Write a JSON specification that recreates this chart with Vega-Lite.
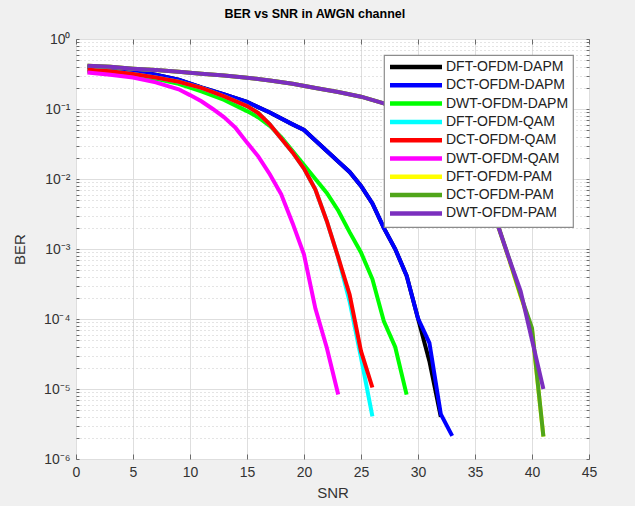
{
  "$schema": "https://vega.github.io/schema/vega-lite/v6.json",
  "width": 513,
  "height": 420,
  "autosize": {"type": "none"},
  "padding": {"left": 76, "top": 39, "right": 46, "bottom": 47},
  "background": "#f0f0f0",
  "title": {"text": "BER vs SNR in AWGN channel", "fontSize": 12.5, "fontWeight": "bold", "font": "Liberation Sans", "color": "#000000", "offset": 12, "anchor": "start", "dx": 212},
  "config": {
    "font": "Liberation Sans",
    "view": {"fill": "white", "stroke": "#6a6a6a", "strokeWidth": 1},
    "axis": {"domain": false, "labelFont": "Liberation Sans", "labelFontSize": 14, "labelColor": "#333333", "tickColor": "#6a6a6a", "titleFont": "Liberation Sans", "titleFontSize": 15, "titleFontWeight": "normal", "titleColor": "#333333", "labelOverlap": false, "labelFlush": false},
    "legend": {
      "orient": "top-right",
      "offset": 16,
      "title": null,
      "fillColor": "white",
      "strokeColor": "#8c8c8c",
      "strokeWidth": 1.2,
      "padding": 4.5,
      "rowPadding": -0.7,
      "symbolType": "M-5.2,0H5.2",
      "symbolSize": 100,
      "symbolStrokeWidth": 4.5,
      "symbolOffset": 20,
      "labelOffset": 22.5,
      "labelFontSize": 14,
      "labelFont": "Liberation Sans",
      "labelColor": "#222222",
      "labelLimit": 300
    }
  },
  "data": {"values": [
    {"s":"DFT-OFDM-DAPM","x":1,"y":0.398},{"s":"DFT-OFDM-DAPM","x":3,"y":0.38},{"s":"DFT-OFDM-DAPM","x":5,"y":0.347},{"s":"DFT-OFDM-DAPM","x":7,"y":0.309},{"s":"DFT-OFDM-DAPM","x":9,"y":0.263},{"s":"DFT-OFDM-DAPM","x":11,"y":0.204},{"s":"DFT-OFDM-DAPM","x":13,"y":0.162},{"s":"DFT-OFDM-DAPM","x":15,"y":0.126},{"s":"DFT-OFDM-DAPM","x":17,"y":0.0891},{"s":"DFT-OFDM-DAPM","x":19,"y":0.0603},{"s":"DFT-OFDM-DAPM","x":20,"y":0.0501},{"s":"DFT-OFDM-DAPM","x":21,"y":0.0355},{"s":"DFT-OFDM-DAPM","x":22,"y":0.0251},{"s":"DFT-OFDM-DAPM","x":23,"y":0.0178},{"s":"DFT-OFDM-DAPM","x":24,"y":0.0126},{"s":"DFT-OFDM-DAPM","x":25,"y":0.00794},{"s":"DFT-OFDM-DAPM","x":26,"y":0.00447},{"s":"DFT-OFDM-DAPM","x":27,"y":0.002},{"s":"DFT-OFDM-DAPM","x":28,"y":0.001},{"s":"DFT-OFDM-DAPM","x":29,"y":0.000417},{"s":"DFT-OFDM-DAPM","x":30,"y":0.000102},{"s":"DFT-OFDM-DAPM","x":31,"y":0.000025},{"s":"DFT-OFDM-DAPM","x":32,"y":0.000004},
    {"s":"DCT-OFDM-DAPM","x":1,"y":0.398},{"s":"DCT-OFDM-DAPM","x":3,"y":0.38},{"s":"DCT-OFDM-DAPM","x":5,"y":0.347},{"s":"DCT-OFDM-DAPM","x":7,"y":0.309},{"s":"DCT-OFDM-DAPM","x":9,"y":0.263},{"s":"DCT-OFDM-DAPM","x":11,"y":0.204},{"s":"DCT-OFDM-DAPM","x":13,"y":0.162},{"s":"DCT-OFDM-DAPM","x":15,"y":0.126},{"s":"DCT-OFDM-DAPM","x":17,"y":0.0891},{"s":"DCT-OFDM-DAPM","x":19,"y":0.0603},{"s":"DCT-OFDM-DAPM","x":20,"y":0.0501},{"s":"DCT-OFDM-DAPM","x":21,"y":0.0355},{"s":"DCT-OFDM-DAPM","x":22,"y":0.0251},{"s":"DCT-OFDM-DAPM","x":23,"y":0.0178},{"s":"DCT-OFDM-DAPM","x":24,"y":0.0126},{"s":"DCT-OFDM-DAPM","x":25,"y":0.00794},{"s":"DCT-OFDM-DAPM","x":26,"y":0.00447},{"s":"DCT-OFDM-DAPM","x":27,"y":0.002},{"s":"DCT-OFDM-DAPM","x":28,"y":0.001},{"s":"DCT-OFDM-DAPM","x":29,"y":0.000417},{"s":"DCT-OFDM-DAPM","x":30,"y":0.000102},{"s":"DCT-OFDM-DAPM","x":31,"y":0.0000457},{"s":"DCT-OFDM-DAPM","x":32,"y":0.00000437},{"s":"DCT-OFDM-DAPM","x":33,"y":0.00000214},
    {"s":"DWT-OFDM-DAPM","x":1,"y":0.347},{"s":"DWT-OFDM-DAPM","x":3,"y":0.331},{"s":"DWT-OFDM-DAPM","x":5,"y":0.302},{"s":"DWT-OFDM-DAPM","x":7,"y":0.269},{"s":"DWT-OFDM-DAPM","x":9,"y":0.229},{"s":"DWT-OFDM-DAPM","x":11,"y":0.178},{"s":"DWT-OFDM-DAPM","x":13,"y":0.135},{"s":"DWT-OFDM-DAPM","x":15,"y":0.0933},{"s":"DWT-OFDM-DAPM","x":16,"y":0.0759},{"s":"DWT-OFDM-DAPM","x":17,"y":0.0575},{"s":"DWT-OFDM-DAPM","x":18,"y":0.0398},{"s":"DWT-OFDM-DAPM","x":19,"y":0.0251},{"s":"DWT-OFDM-DAPM","x":20,"y":0.0158},{"s":"DWT-OFDM-DAPM","x":21,"y":0.01},{"s":"DWT-OFDM-DAPM","x":22,"y":0.00631},{"s":"DWT-OFDM-DAPM","x":23,"y":0.00355},{"s":"DWT-OFDM-DAPM","x":24,"y":0.00174},{"s":"DWT-OFDM-DAPM","x":25,"y":0.000891},{"s":"DWT-OFDM-DAPM","x":26,"y":0.000372},{"s":"DWT-OFDM-DAPM","x":27,"y":0.0000933},{"s":"DWT-OFDM-DAPM","x":28,"y":0.0000398},{"s":"DWT-OFDM-DAPM","x":29,"y":0.00000832},
    {"s":"DFT-OFDM-QAM","x":1,"y":0.363},{"s":"DFT-OFDM-QAM","x":3,"y":0.347},{"s":"DFT-OFDM-QAM","x":5,"y":0.316},{"s":"DFT-OFDM-QAM","x":7,"y":0.282},{"s":"DFT-OFDM-QAM","x":9,"y":0.245},{"s":"DFT-OFDM-QAM","x":11,"y":0.2},{"s":"DFT-OFDM-QAM","x":13,"y":0.151},{"s":"DFT-OFDM-QAM","x":15,"y":0.11},{"s":"DFT-OFDM-QAM","x":16,"y":0.0871},{"s":"DFT-OFDM-QAM","x":17,"y":0.0603},{"s":"DFT-OFDM-QAM","x":18,"y":0.038},{"s":"DFT-OFDM-QAM","x":19,"y":0.024},{"s":"DFT-OFDM-QAM","x":20,"y":0.0141},{"s":"DFT-OFDM-QAM","x":21,"y":0.00708},{"s":"DFT-OFDM-QAM","x":22,"y":0.00251},{"s":"DFT-OFDM-QAM","x":23,"y":0.000759},{"s":"DFT-OFDM-QAM","x":24,"y":0.000178},{"s":"DFT-OFDM-QAM","x":25,"y":0.0000282},{"s":"DFT-OFDM-QAM","x":26,"y":0.00000407},
    {"s":"DCT-OFDM-QAM","x":1,"y":0.363},{"s":"DCT-OFDM-QAM","x":3,"y":0.347},{"s":"DCT-OFDM-QAM","x":5,"y":0.316},{"s":"DCT-OFDM-QAM","x":7,"y":0.282},{"s":"DCT-OFDM-QAM","x":9,"y":0.245},{"s":"DCT-OFDM-QAM","x":11,"y":0.2},{"s":"DCT-OFDM-QAM","x":13,"y":0.151},{"s":"DCT-OFDM-QAM","x":15,"y":0.11},{"s":"DCT-OFDM-QAM","x":16,"y":0.0871},{"s":"DCT-OFDM-QAM","x":17,"y":0.0603},{"s":"DCT-OFDM-QAM","x":18,"y":0.038},{"s":"DCT-OFDM-QAM","x":19,"y":0.024},{"s":"DCT-OFDM-QAM","x":20,"y":0.0141},{"s":"DCT-OFDM-QAM","x":21,"y":0.00708},{"s":"DCT-OFDM-QAM","x":22,"y":0.00251},{"s":"DCT-OFDM-QAM","x":23,"y":0.000759},{"s":"DCT-OFDM-QAM","x":24,"y":0.000224},{"s":"DCT-OFDM-QAM","x":25,"y":0.0000347},{"s":"DCT-OFDM-QAM","x":26,"y":0.0000105},
    {"s":"DWT-OFDM-QAM","x":1,"y":0.331},{"s":"DWT-OFDM-QAM","x":3,"y":0.309},{"s":"DWT-OFDM-QAM","x":5,"y":0.282},{"s":"DWT-OFDM-QAM","x":7,"y":0.24},{"s":"DWT-OFDM-QAM","x":9,"y":0.191},{"s":"DWT-OFDM-QAM","x":10,"y":0.158},{"s":"DWT-OFDM-QAM","x":11,"y":0.129},{"s":"DWT-OFDM-QAM","x":12,"y":0.1},{"s":"DWT-OFDM-QAM","x":13,"y":0.0759},{"s":"DWT-OFDM-QAM","x":14,"y":0.0537},{"s":"DWT-OFDM-QAM","x":15,"y":0.0331},{"s":"DWT-OFDM-QAM","x":16,"y":0.0209},{"s":"DWT-OFDM-QAM","x":17,"y":0.0117},{"s":"DWT-OFDM-QAM","x":18,"y":0.00603},{"s":"DWT-OFDM-QAM","x":19,"y":0.00234},{"s":"DWT-OFDM-QAM","x":20,"y":0.000832},{"s":"DWT-OFDM-QAM","x":21,"y":0.000141},{"s":"DWT-OFDM-QAM","x":22,"y":0.0000389},{"s":"DWT-OFDM-QAM","x":23,"y":0.00000832},
    {"s":"DFT-OFDM-PAM","x":1,"y":0.415},{"s":"DFT-OFDM-PAM","x":3,"y":0.4},{"s":"DFT-OFDM-PAM","x":5,"y":0.377},{"s":"DFT-OFDM-PAM","x":7,"y":0.36},{"s":"DFT-OFDM-PAM","x":9,"y":0.34},{"s":"DFT-OFDM-PAM","x":11,"y":0.32},{"s":"DFT-OFDM-PAM","x":13,"y":0.3},{"s":"DFT-OFDM-PAM","x":15,"y":0.28},{"s":"DFT-OFDM-PAM","x":17,"y":0.255},{"s":"DFT-OFDM-PAM","x":19,"y":0.23},{"s":"DFT-OFDM-PAM","x":21,"y":0.2},{"s":"DFT-OFDM-PAM","x":23,"y":0.175},{"s":"DFT-OFDM-PAM","x":25,"y":0.15},{"s":"DFT-OFDM-PAM","x":27,"y":0.12},{"s":"DFT-OFDM-PAM","x":29,"y":0.09},{"s":"DFT-OFDM-PAM","x":31,"y":0.06},{"s":"DFT-OFDM-PAM","x":33,"y":0.03},{"s":"DFT-OFDM-PAM","x":34,"y":0.02},{"s":"DFT-OFDM-PAM","x":35,"y":0.011},{"s":"DFT-OFDM-PAM","x":36,"y":0.006},{"s":"DFT-OFDM-PAM","x":37,"y":0.0022},{"s":"DFT-OFDM-PAM","x":38,"y":0.0007},{"s":"DFT-OFDM-PAM","x":39,"y":0.00021},{"s":"DFT-OFDM-PAM","x":40,"y":0.00007},{"s":"DFT-OFDM-PAM","x":41,"y":0.0000021},
    {"s":"DCT-OFDM-PAM","x":1,"y":0.415},{"s":"DCT-OFDM-PAM","x":3,"y":0.4},{"s":"DCT-OFDM-PAM","x":5,"y":0.377},{"s":"DCT-OFDM-PAM","x":7,"y":0.36},{"s":"DCT-OFDM-PAM","x":9,"y":0.34},{"s":"DCT-OFDM-PAM","x":11,"y":0.32},{"s":"DCT-OFDM-PAM","x":13,"y":0.3},{"s":"DCT-OFDM-PAM","x":15,"y":0.28},{"s":"DCT-OFDM-PAM","x":17,"y":0.255},{"s":"DCT-OFDM-PAM","x":19,"y":0.23},{"s":"DCT-OFDM-PAM","x":21,"y":0.2},{"s":"DCT-OFDM-PAM","x":23,"y":0.175},{"s":"DCT-OFDM-PAM","x":25,"y":0.15},{"s":"DCT-OFDM-PAM","x":27,"y":0.12},{"s":"DCT-OFDM-PAM","x":29,"y":0.09},{"s":"DCT-OFDM-PAM","x":31,"y":0.06},{"s":"DCT-OFDM-PAM","x":33,"y":0.03},{"s":"DCT-OFDM-PAM","x":34,"y":0.02},{"s":"DCT-OFDM-PAM","x":35,"y":0.011},{"s":"DCT-OFDM-PAM","x":36,"y":0.006},{"s":"DCT-OFDM-PAM","x":37,"y":0.0022},{"s":"DCT-OFDM-PAM","x":38,"y":0.00072},{"s":"DCT-OFDM-PAM","x":39,"y":0.00022},{"s":"DCT-OFDM-PAM","x":40,"y":0.000074},{"s":"DCT-OFDM-PAM","x":41,"y":0.0000021},
    {"s":"DWT-OFDM-PAM","x":1,"y":0.415},{"s":"DWT-OFDM-PAM","x":3,"y":0.4},{"s":"DWT-OFDM-PAM","x":5,"y":0.377},{"s":"DWT-OFDM-PAM","x":7,"y":0.36},{"s":"DWT-OFDM-PAM","x":9,"y":0.34},{"s":"DWT-OFDM-PAM","x":11,"y":0.32},{"s":"DWT-OFDM-PAM","x":13,"y":0.3},{"s":"DWT-OFDM-PAM","x":15,"y":0.28},{"s":"DWT-OFDM-PAM","x":17,"y":0.255},{"s":"DWT-OFDM-PAM","x":19,"y":0.23},{"s":"DWT-OFDM-PAM","x":21,"y":0.2},{"s":"DWT-OFDM-PAM","x":23,"y":0.175},{"s":"DWT-OFDM-PAM","x":25,"y":0.15},{"s":"DWT-OFDM-PAM","x":27,"y":0.12},{"s":"DWT-OFDM-PAM","x":29,"y":0.09},{"s":"DWT-OFDM-PAM","x":31,"y":0.06},{"s":"DWT-OFDM-PAM","x":33,"y":0.03},{"s":"DWT-OFDM-PAM","x":34,"y":0.02},{"s":"DWT-OFDM-PAM","x":35,"y":0.011},{"s":"DWT-OFDM-PAM","x":36,"y":0.006},{"s":"DWT-OFDM-PAM","x":37,"y":0.0022},{"s":"DWT-OFDM-PAM","x":38,"y":0.00072},{"s":"DWT-OFDM-PAM","x":39,"y":0.00025},{"s":"DWT-OFDM-PAM","x":40,"y":0.00005},{"s":"DWT-OFDM-PAM","x":41,"y":0.00001}
  ]},
  "layer": [
    {
      "mark": {"type": "line", "strokeWidth": 4, "clip": true},
      "encoding": {
        "x": {"field": "x", "type": "quantitative", "title": "SNR",
          "scale": {"domain": [0, 45], "nice": false, "zero": false},
          "axis": {"orient": "bottom", "values": [0,5,10,15,20,25,30,35,40,45], "grid": true, "gridColor": "#dedede", "tickSize": -5, "labelPadding": 11, "titlePadding": 6}},
        "y": {"field": "y", "type": "quantitative", "title": "BER",
          "scale": {"type": "log", "domain": [0.000001, 1], "nice": false},
          "axis": {"orient": "left",
            "values": [0.000001,0.000002,0.000003,0.000004,0.000005,0.000006,0.000007,0.000008,0.000009,0.00001,0.00002,0.00003,0.00004,0.00005,0.00006,0.00007,0.00008,0.00009,0.0001,0.0002,0.0003,0.0004,0.0005,0.0006,0.0007,0.0008,0.0009,0.001,0.002,0.003,0.004,0.005,0.006,0.007,0.008,0.009,0.01,0.02,0.03,0.04,0.05,0.06,0.07,0.08,0.09,0.1,0.2,0.3,0.4,0.5,0.6,0.7,0.8,0.9,1],
            "labelExpr": "abs(log(datum.value)/LN10-round(log(datum.value)/LN10))<0.000001 ? ['10⁰','10⁻¹','10⁻²','10⁻³','10⁻⁴','10⁻⁵','10⁻⁶'][-round(log(datum.value)/LN10)] : ''",
            "grid": true,
            "gridColor": {"condition": {"test": "abs(log(datum.value)/LN10-round(log(datum.value)/LN10))<0.000001", "value": "#dedede"}, "value": "#c8c8c8"},
            "gridDash": {"condition": {"test": "abs(log(datum.value)/LN10-round(log(datum.value)/LN10))<0.000001", "value": []}, "value": [1, 3]},
            "tickSize": -3,
            "labelPadding": 9,
            "titlePadding": 16}},
        "color": {"field": "s", "type": "nominal", "sort": null,
          "scale": {"domain": ["DFT-OFDM-DAPM","DCT-OFDM-DAPM","DWT-OFDM-DAPM","DFT-OFDM-QAM","DCT-OFDM-QAM","DWT-OFDM-QAM","DFT-OFDM-PAM","DCT-OFDM-PAM","DWT-OFDM-PAM"],
                    "range": ["#000000","#0000ff","#00ff00","#00ffff","#ff0000","#ff00ff","#ffff00","#50a51a","#7b2fbe"]}}
      }
    },
    {
      "mark": {"type": "line", "strokeOpacity": 0},
      "encoding": {
        "x": {"field": "x", "type": "quantitative",
          "scale": {"domain": [0, 45], "nice": false, "zero": false},
          "axis": {"orient": "top", "values": [0,5,10,15,20,25,30,35,40,45], "labels": false, "grid": false, "tickSize": -5, "title": null}},
        "y": {"field": "y", "type": "quantitative",
          "scale": {"type": "log", "domain": [0.000001, 1], "nice": false},
          "axis": {"orient": "right", "values": [0.000001,0.000002,0.000003,0.000004,0.000005,0.000006,0.000007,0.000008,0.000009,0.00001,0.00002,0.00003,0.00004,0.00005,0.00006,0.00007,0.00008,0.00009,0.0001,0.0002,0.0003,0.0004,0.0005,0.0006,0.0007,0.0008,0.0009,0.001,0.002,0.003,0.004,0.005,0.006,0.007,0.008,0.009,0.01,0.02,0.03,0.04,0.05,0.06,0.07,0.08,0.09,0.1,0.2,0.3,0.4,0.5,0.6,0.7,0.8,0.9,1], "labels": false, "grid": false, "tickSize": -3, "title": null}}
      }
    }
  ],
  "resolve": {"axis": {"x": "independent", "y": "independent"}}
}
